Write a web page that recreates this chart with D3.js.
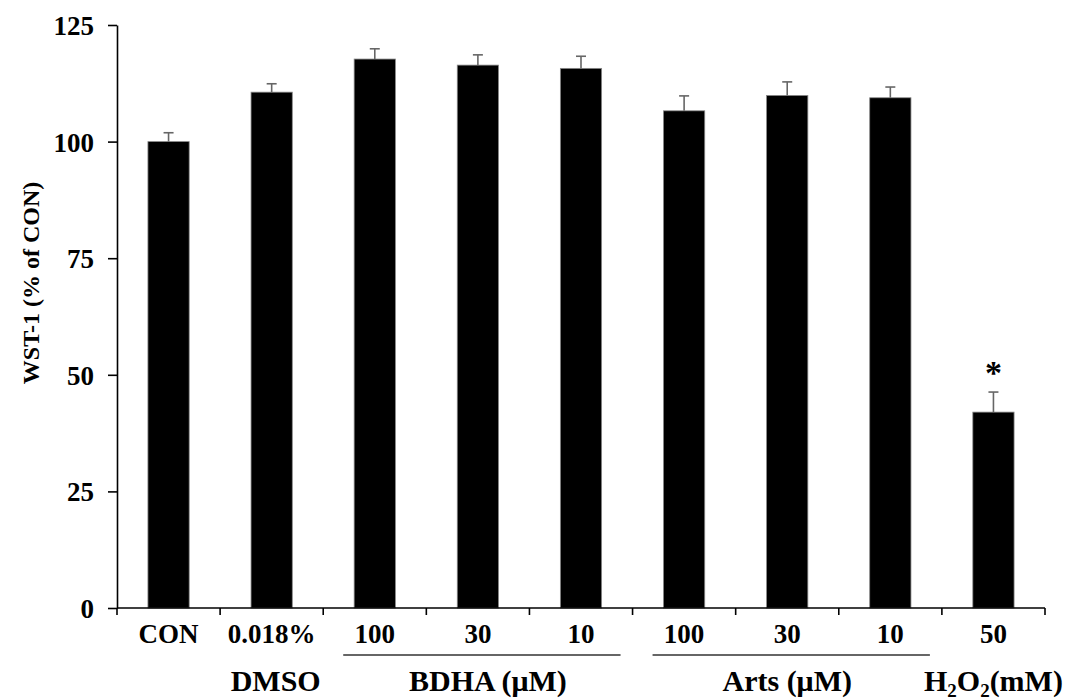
<!DOCTYPE html>
<html lang="en">
<head>
<meta charset="UTF-8">
<script src="https://d3js.org/d3.v7.min.js"></script>
<style>
  body { margin: 0; background: #fff; }
  text { font-family: 'Liberation Serif', 'Times New Roman', serif; font-weight: bold; fill: #000; }
</style>
</head>
<body>
<div id="chart"></div>
<script>

var categories = ["CON", "0.018%", "100", "30", "10", "100", "30", "10", "50"];
var values = [100, 110.6, 117.7, 116.4, 115.7, 106.6, 109.9, 109.4, 42.0];
var errors = [1.9, 1.8, 2.2, 2.2, 2.6, 3.2, 2.9, 2.3, 4.3];
var yTicks = [0, 25, 50, 75, 100, 125];

// group labels under the axis: first/last category index, whether underlined
var groupNames = ["DMSO", "BDHA (μM)", "Arts (μM)"];
var groupFirst = [1, 2, 5];
var groupLast = [1, 4, 7];
var groupLine = [false, true, true];

var data = categories.map(function (c, i) {
  return { key: i, label: c, value: values[i], err: errors[i] };
});

var svg = d3.select("#chart")
.append("svg")
.attr("width", 1068)
.attr("height", 700);

var x_scale = d3.scaleBand()
.domain(d3.range(categories.length))
.range([117, 1045])
.padding(0);

var y_scale = d3.scaleLinear()
.domain([0, 125])
.range([608, 25]);

var barW = x_scale.bandwidth() * 0.4;

svg.selectAll("rect.bar")
.data(data)
.enter()
.append("rect")
.attr("class", "bar")
.attr("x", function (d) { return x_scale(d.key) + (x_scale.bandwidth() - barW) / 2; })
.attr("y", function (d) { return y_scale(d.value); })
.attr("width", barW)
.attr("height", function (d) { return y_scale(0) - y_scale(d.value); })
.style("fill", "#000")
.style("stroke", "#888")
.style("stroke-width", 0.8);

var err = svg.append("g")
.style("stroke", "#666")
.style("stroke-width", 1.6);

err.selectAll("line.stem")
.data(data)
.enter()
.append("line")
.attr("x1", function (d) { return x_scale(d.key) + x_scale.bandwidth() / 2; })
.attr("x2", function (d) { return x_scale(d.key) + x_scale.bandwidth() / 2; })
.attr("y1", function (d) { return y_scale(d.value); })
.attr("y2", function (d) { return y_scale(d.value + d.err); });

err.selectAll("line.cap")
.data(data)
.enter()
.append("line")
.attr("x1", function (d) { return x_scale(d.key) + x_scale.bandwidth() / 2 - 5; })
.attr("x2", function (d) { return x_scale(d.key) + x_scale.bandwidth() / 2 + 5; })
.attr("y1", function (d) { return y_scale(d.value + d.err); })
.attr("y2", function (d) { return y_scale(d.value + d.err); });

// y axis
var y_axis = d3.axisLeft(y_scale)
.tickValues(yTicks)
.tickSize(9)
.tickSizeOuter(0)
.tickPadding(14);

var gy = svg.append("g")
.attr("transform", "translate(117,0)")
.call(y_axis);
gy.select(".domain").style("stroke", "#000").style("stroke-width", 1.6);
gy.selectAll(".tick line").style("stroke", "#000").style("stroke-width", 1.6);
gy.selectAll(".tick text")
.style("font-family", "'Liberation Serif', serif")
.style("font-weight", "bold")
.style("font-size", "27px")
.attr("dy", "0.35em");

// x axis: ticks at band boundaries
var xLine = svg.append("g")
.style("stroke", "#000")
.style("stroke-width", 1.6);

xLine.append("line")
.attr("x1", x_scale(0))
.attr("x2", x_scale(categories.length - 1) + x_scale.bandwidth())
.attr("y1", y_scale(0))
.attr("y2", y_scale(0));

xLine.selectAll("line.xt")
.data(d3.range(categories.length + 1))
.enter()
.append("line")
.attr("x1", function (i) { return x_scale.range()[0] + i * x_scale.step(); })
.attr("x2", function (i) { return x_scale.range()[0] + i * x_scale.step(); })
.attr("y1", y_scale(0))
.attr("y2", y_scale(0) + 7);

svg.selectAll("text.cat")
.data(data)
.enter()
.append("text")
.attr("class", "cat")
.attr("x", function (d) { return x_scale(d.key) + x_scale.bandwidth() / 2; })
.attr("y", 643)
.attr("text-anchor", "middle")
.style("font-size", "27px")
.text(function (d) { return d.label; });

// group labels + underlines
groupNames.forEach(function (name, i) {
  var x0 = x_scale(groupFirst[i]);
  var x1 = x_scale(groupLast[i]) + x_scale.bandwidth();
  if (groupLine[i]) {
    svg.append("line")
    .attr("x1", x0 + 20)
    .attr("x2", x1 - 12)
    .attr("y1", 655)
    .attr("y2", 655)
    .style("stroke", "#333")
    .style("stroke-width", 1.4);
  }
  var cx = (x0 + x1) / 2;
  if (i == 1) cx = cx + 10;
  if (i == 0) cx = cx + 4;
  svg.append("text")
  .attr("x", cx)
  .attr("y", 691)
  .attr("text-anchor", "middle")
  .style("font-size", "30px")
  .text(name);
});

var h2o2 = svg.append("text")
.attr("x", x_scale(8) + x_scale.bandwidth() / 2)
.attr("y", 691)
.attr("text-anchor", "middle")
.style("font-size", "30px");
h2o2.append("tspan").text("H");
h2o2.append("tspan").text("2").style("font-size", "19px").attr("dy", 6);
h2o2.append("tspan").text("O").attr("dy", -6);
h2o2.append("tspan").text("2").style("font-size", "19px").attr("dy", 6);
h2o2.append("tspan").text("(mM)").attr("dy", -6);

// significance mark
svg.append("text")
.attr("x", x_scale(8) + x_scale.bandwidth() / 2)
.attr("y", y_scale(values[8] + errors[8]) - 8)
.attr("text-anchor", "middle")
.style("font-size", "34px")
.text("*");

svg.append("text")
.attr("transform", "translate(39,283) rotate(-90)")
.attr("text-anchor", "middle")
.style("font-size", "24px")
.text("WST-1  (% of CON)");

</script>
</body>
</html>
